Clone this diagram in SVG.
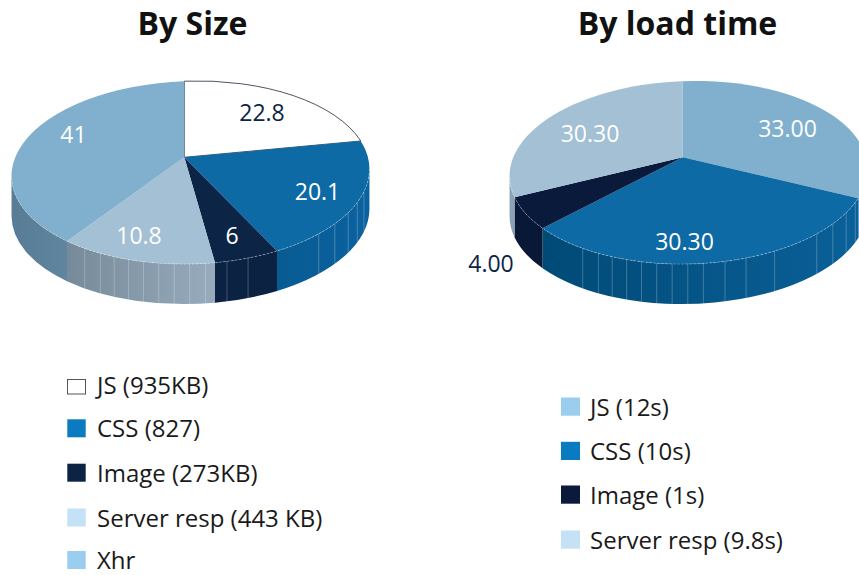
<svg xmlns="http://www.w3.org/2000/svg" width="859" height="575" viewBox="0 0 859 575">
<style>
.title{font-family:"Open Sans","Noto Sans",sans-serif;font-weight:700;font-size:32px;fill:#111;text-anchor:middle}
.lbl{font-family:"Open Sans","Noto Sans",sans-serif;font-size:23px;text-anchor:middle}
.w{fill:#fff}.n{fill:#0c2546}
.leg{font-family:"Open Sans","Noto Sans",sans-serif;font-size:24px;fill:#1a1a1a}
.facet{stroke:#fff;stroke-opacity:.3;stroke-width:.8}
.edge{fill:none;stroke:#fff;stroke-opacity:.55;stroke-width:.7;stroke-dasharray:2 2}
</style>
<defs>
<linearGradient id="g41" x1="0" y1="0" x2="1" y2="0"><stop offset="0" stop-color="#587c96"/><stop offset="1" stop-color="#5f859f"/></linearGradient>
<linearGradient id="g108" x1="0" y1="0" x2="1" y2="0"><stop offset="0" stop-color="#778a99"/><stop offset="1" stop-color="#97abbd"/></linearGradient>
<linearGradient id="g201" x1="0" y1="0" x2="1" y2="0"><stop offset="0" stop-color="#085b92"/><stop offset="1" stop-color="#0b62a0"/></linearGradient>
<linearGradient id="gblue" x1="0" y1="0" x2="1" y2="0"><stop offset="0" stop-color="#004a76"/><stop offset="1" stop-color="#0a6099"/></linearGradient>
</defs>

<text id="title-size" class="title" x="192.5" y="35">By Size</text>
<text id="title-load" class="title" x="677.5" y="35">By load time</text>

<g id="pie-size">
  <g id="size-js">
    <path d="M184.3,157.3 L184.3,81.15 A179 91.5 -1.5 0 1 360.73,140.97 Z" fill="#fff" stroke="#1e2b3a" stroke-width="0.8"/>
    <text class="lbl n" x="262" y="121">22.8</text>
  </g>
  <g id="size-css">
    <path d="M369.45,169.04 A179 91.5 -1.5 0 1 277.03,250.94 L277.03,290.94 A179 91.5 -1.5 0 0 369.45,209.04 Z" fill="url(#g201)"/>
    <path d="M184.3,157.3 L360.73,140.97 A179 91.5 -1.5 0 1 277.03,250.94 Z" fill="#0d6aa5"/>
    <text class="lbl w" x="317.5" y="200">20.1</text>
  </g>
  <g id="size-image">
    <path d="M277.03,250.94 A179 91.5 -1.5 0 1 215,262.69 L215,302.69 A179 91.5 -1.5 0 0 277.03,290.94 Z" fill="#0b2242"/>
    <path d="M184.3,157.3 L277.03,250.94 A179 91.5 -1.5 0 1 215,262.69 Z" fill="#0c2546"/>
    <text class="lbl w" x="232" y="243.5">6</text>
  </g>
  <g id="size-server">
    <path d="M215,262.69 A179 91.5 -1.5 0 1 67.01,241.14 L67.01,281.14 A179 91.5 -1.5 0 0 215,302.69 Z" fill="url(#g108)"/>
    <path d="M184.3,157.3 L215,262.69 A179 91.5 -1.5 0 1 67.01,241.14 Z" fill="#a3c0d4"/>
    <text class="lbl w" x="139" y="244">10.8</text>
  </g>
  <g id="size-xhr">
    <path d="M67.01,241.14 A179 91.5 -1.5 0 1 11.55,175.96 L11.55,215.96 A179 91.5 -1.5 0 0 67.01,281.14 Z" fill="url(#g41)"/>
    <path d="M184.3,157.3 L67.01,241.14 A179 91.5 -1.5 0 1 184.3,81.15 Z" fill="#80b0cd"/>
    <text class="lbl w" x="73.5" y="143">41</text>
  </g>
  <g id="size-facets" class="facet">
    <path d="M363.96,191.64v40M357.31,202.42v40M348.16,212.75v40M334.84,223.81v40M318.72,233.87v40M248.07,258.05v40M226.99,261.4v40M205.38,263.42v40M189.77,264.04v40M174.18,263.96v40M158.71,263.18v40M143.48,261.72v40M128.61,259.58v40M114.2,256.76v40M100.39,253.32v40M84.72,248.37v40"/>
  </g>
  <path class="edge" d="M369.45,169.04 A179 91.5 -1.5 0 1 215,262.69 A179 91.5 -1.5 0 1 11.55,175.96"/>
</g>

<g id="pie-load">
  <g id="load-js">
    <path d="M867.45,169.04 A179 91.5 -1.5 0 1 858.17,198.31 L858.17,238.31 A179 91.5 -1.5 0 0 867.45,209.04 Z" fill="#6b98b8"/>
    <path d="M682.8,157.3 L682.8,81.13 A179 91.5 -1.5 0 1 858.17,198.31 Z" fill="#80b0cd"/>
    <text class="lbl w" x="787.5" y="137">33.00</text>
  </g>
  <g id="load-css">
    <path d="M858.17,198.31 A179 91.5 -1.5 0 1 542.59,228.32 L542.59,268.32 A179 91.5 -1.5 0 0 858.17,238.31 Z" fill="url(#gblue)"/>
    <path d="M682.8,157.3 L858.17,198.31 A179 91.5 -1.5 0 1 542.59,228.32 Z" fill="#0d6aa5"/>
    <text class="lbl w" x="684.5" y="250">30.30</text>
  </g>
  <g id="load-image">
    <path d="M542.59,228.32 A179 91.5 -1.5 0 1 514.52,197.3 L514.52,237.3 A179 91.5 -1.5 0 0 542.59,268.32 Z" fill="#0a1838"/>
    <path d="M682.8,157.3 L542.59,228.32 A179 91.5 -1.5 0 1 514.52,197.3 Z" fill="#0a1a3a"/>
    <text class="lbl n" x="491" y="272">4.00</text>
  </g>
  <g id="load-server">
    <path d="M514.52,197.3 A179 91.5 -1.5 0 1 509.55,175.96 L509.55,215.96 A179 91.5 -1.5 0 0 514.52,237.3 Z" fill="#8aa2b4"/>
    <path d="M682.8,157.3 L514.52,197.3 A179 91.5 -1.5 0 1 682.8,81.13 Z" fill="#a3c0d4"/>
    <text class="lbl w" x="590" y="141.5">30.30</text>
  </g>
  <g id="load-facets" class="facet">
    <path d="M855.31,202.42v40M846.16,212.75v40M832.84,223.81v40M816.72,233.87v40M774.62,251.06v40M746.07,258.05v40M724.99,261.4v40M703.38,263.42v40M687.77,264.04v40M672.18,263.96v40M656.71,263.18v40M641.48,261.72v40M626.61,259.58v40M612.2,256.76v40M598.39,253.32v40M582.72,248.37v40"/>
  </g>
  <path class="edge" d="M867.45,169.04 A179 91.5 -1.5 0 1 542.59,228.32 A179 91.5 -1.5 0 1 509.55,175.96"/>
</g>

<g id="legend-size">
  <g id="leg-size-js"><rect x="67.5" y="379.5" width="18" height="14.5" fill="#fff" stroke="#555" stroke-width="1"/><text class="leg" x="97" y="394">JS (935KB)</text></g>
  <g id="leg-size-css"><rect x="67.3" y="419.3" width="18.4" height="18" fill="#0b7bc1"/><text class="leg" x="97" y="437.3">CSS (827)</text></g>
  <g id="leg-size-image"><rect x="67.3" y="463.7" width="18.4" height="18" fill="#0c2344"/><text class="leg" x="97" y="481.7">Image (273KB)</text></g>
  <g id="leg-size-server"><rect x="67.3" y="508.5" width="18.4" height="18" fill="#c4e1f5"/><text class="leg" x="97" y="526.5">Server resp (443 KB)</text></g>
  <g id="leg-size-xhr"><rect x="67.3" y="551" width="18.4" height="18" fill="#9acdee"/><text class="leg" x="97" y="568.5">Xhr</text></g>
</g>

<g id="legend-load">
  <g id="leg-load-js"><rect x="561" y="397.5" width="19" height="18.2" fill="#9acdee"/><text class="leg" x="590" y="415.7">JS (12s)</text></g>
  <g id="leg-load-css"><rect x="561" y="441.8" width="19" height="18.2" fill="#0b7bc1"/><text class="leg" x="590" y="460">CSS (10s)</text></g>
  <g id="leg-load-image"><rect x="561" y="485.5" width="19" height="18.2" fill="#0b1a3b"/><text class="leg" x="590" y="503.7">Image (1s)</text></g>
  <g id="leg-load-server"><rect x="561" y="530.5" width="19" height="18.2" fill="#c4e1f5"/><text class="leg" x="590" y="548.7">Server resp (9.8s)</text></g>
</g>
</svg>
